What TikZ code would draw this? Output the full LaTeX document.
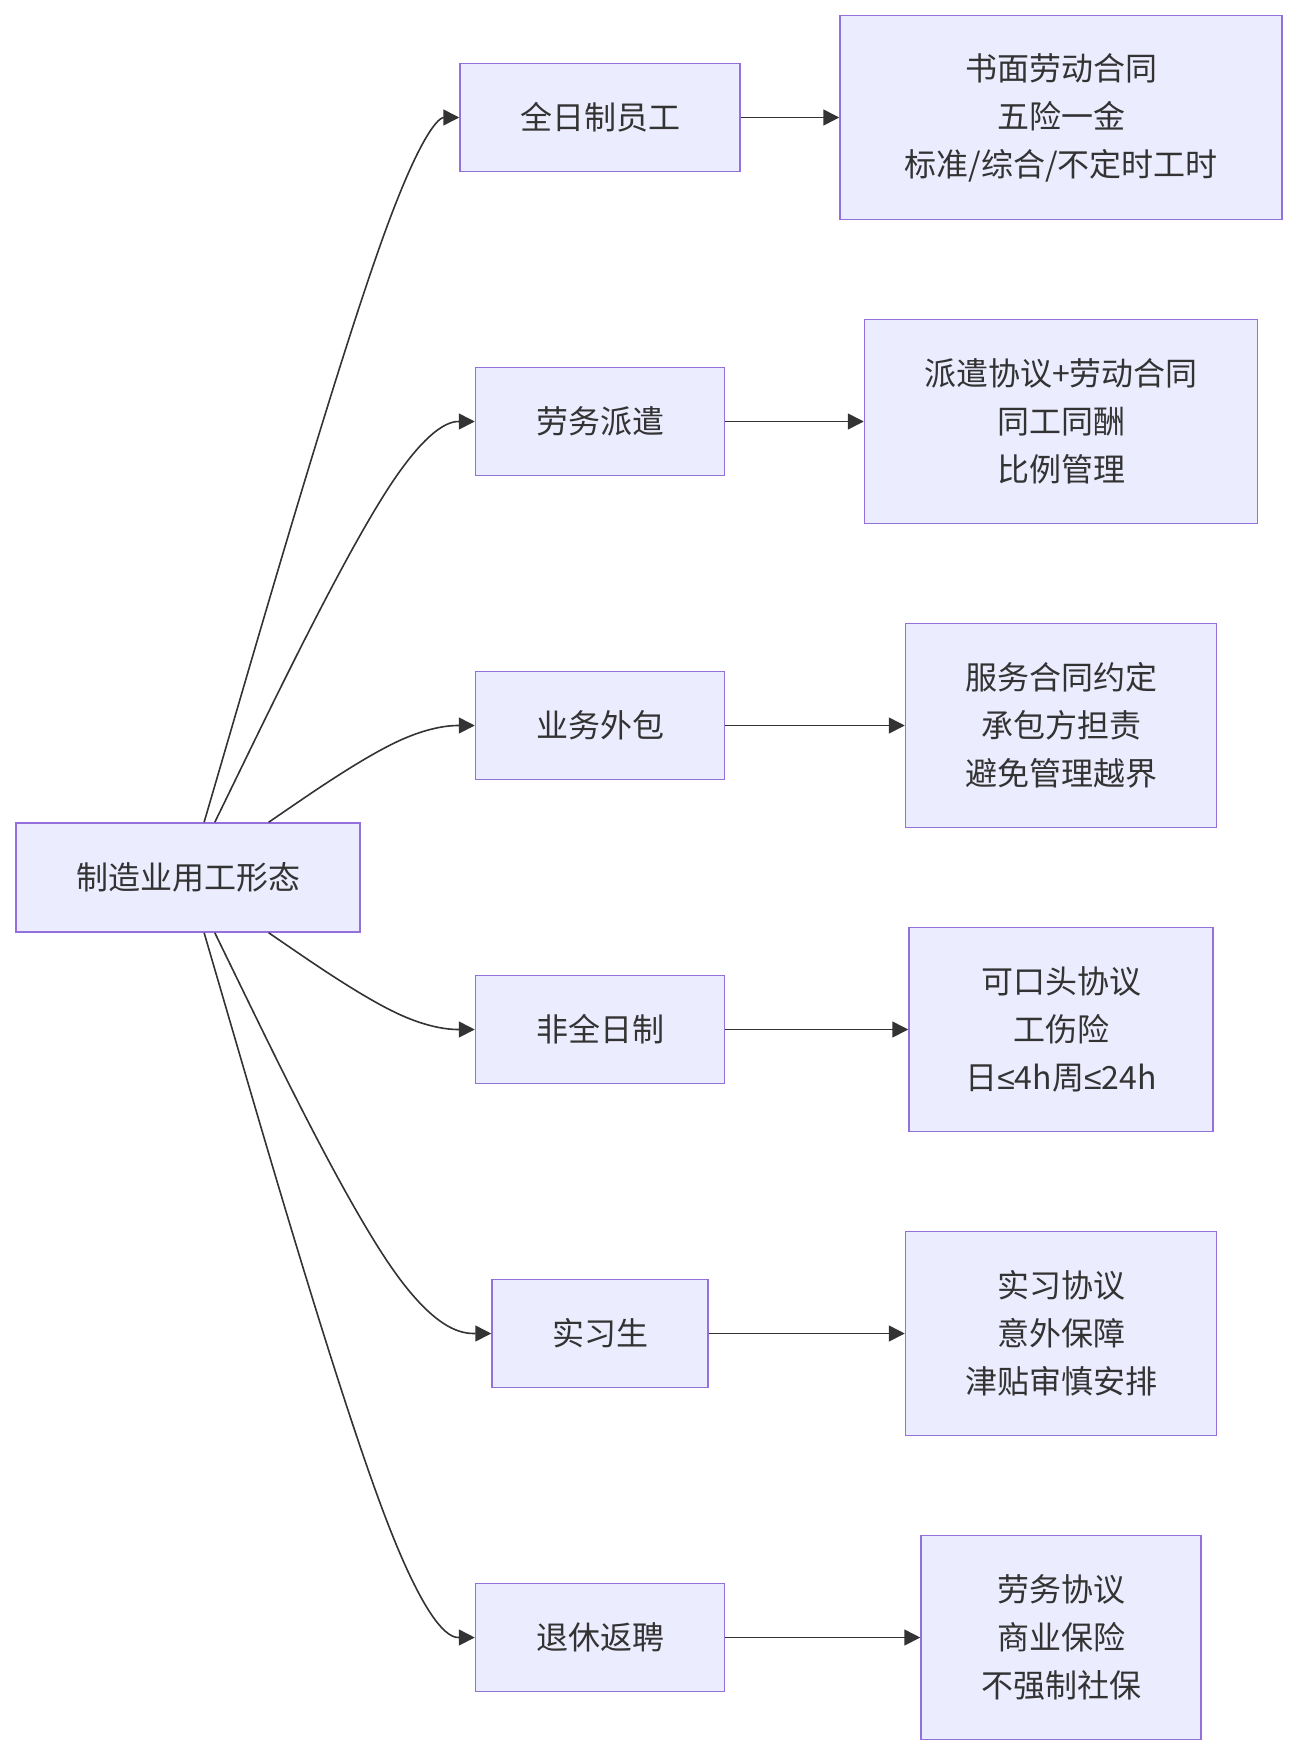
\documentclass[tikz,border=0pt]{standalone}
\usepackage{fontspec}
\newfontfamily\cjk{Noto Sans CJK SC}
\newfontfamily\lat{Liberation Sans}
\usetikzlibrary{arrows.meta,calc}
\definecolor{boxfill}{HTML}{ECECFF}
\definecolor{boxline}{HTML}{9370DB}
\definecolor{ink}{HTML}{333333}
\begin{document}
\begin{tikzpicture}[x=1pt,y=-1pt,
  box/.style={draw=boxline, fill=boxfill, line width=1.5pt, text=ink,
    font=\cjk\fontsize{32}{48}\selectfont, align=center, inner sep=0pt},
  lvone/.style={box, minimum height=108pt, minimum width=#1},
  lvtwo/.style={box, minimum height=204pt, minimum width=#1},
  edge/.style={draw=ink, line width=1.6pt, -{Triangle[length=16pt,width=16pt]}},
]
\useasboundingbox (0,0) rectangle (1297,1756);

\node[box, minimum width=344pt, minimum height=109pt] (root) at (188,877.5) {制造业用工形态};

\node[lvone=280pt] (a1) at (600,117.5)  {全日制员工};
\node[lvone=249pt] (a2) at (600,421.5)  {劳务派遣};
\node[lvone=249pt] (a3) at (600,725.5)  {业务外包};
\node[lvone=249pt] (a4) at (600,1029.5) {非全日制};
\node[lvone=216pt] (a5) at (600,1333.5) {实习生};
\node[lvone=249pt] (a6) at (600,1637.5) {退休返聘};

\node[lvtwo=442pt] (b1) at (1061,117.5)  {书面劳动合同\\五险一金\\标准/综合/不定时工时};
\node[lvtwo=393pt] (b2) at (1061,421.5)  {派遣协议+劳动合同\\同工同酬\\比例管理};
\node[lvtwo=311pt] (b3) at (1061,725.5)  {服务合同约定\\承包方担责\\避免管理越界};
\node[lvtwo=304pt] (b4) at (1061,1029.5) {可口头协议\\工伤险\\日{\lat ≤}4h周{\lat ≤}24h};
\node[lvtwo=311pt] (b5) at (1061,1333.5) {实习协议\\意外保障\\津贴审慎安排};
\node[lvtwo=280pt] (b6) at (1061,1637.5) {劳务协议\\商业保险\\不强制社保};

\coordinate (mx) at (410,0);
\foreach \tgt in {a1,a2,a3,a4,a5,a6} {
  \coordinate (p1) at (mx |- \tgt.west);
  \coordinate (p2) at (\tgt.west);
  \path (p1) -- (root) coordinate[pos=1] (p0);
  \coordinate (q0) at ($(p0)!0.16667!(p1)$);
  \coordinate (c1) at ($(p0)!0.33333!(p1)$);
  \coordinate (c2) at ($(p0)!0.66667!(p1)$);
  \coordinate (m)  at ($0.16667*(p0)+0.66667*(p1)+0.16667*(p2)$);
  \coordinate (c3) at ($(p1)!0.33333!(p2)$);
  \coordinate (c4) at ($(p1)!0.66667!(p2)$);
  \draw[edge] (root) -- (q0) .. controls (c1) and (c2) .. (m)
    .. controls (c3) and (c4) .. (\tgt.west);
}

\foreach \i in {1,...,6} {
  \draw[edge] (a\i) -- (b\i);
}
\end{tikzpicture}
\end{document}
